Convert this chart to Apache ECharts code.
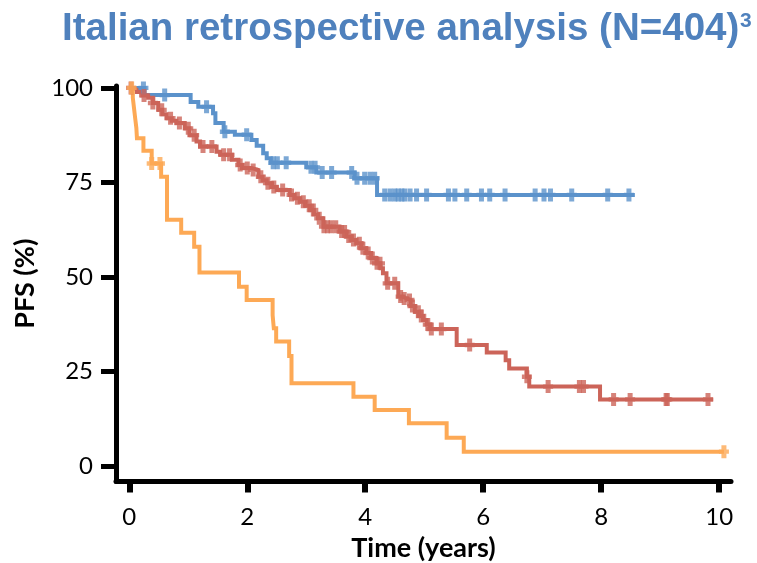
<!DOCTYPE html>
<html>
<head>
<meta charset="utf-8">
<script src="https://cdn.jsdelivr.net/npm/echarts@6/dist/echarts.min.js"></script>
<style>html,body{margin:0;padding:0;background:#fff}#c{width:757px;height:563px}</style>
</head>
<body>
<div id="c"></div>
<script>
// ---- data ----
const titleText = 'Italian retrospective analysis (N=404)';
const titleSup = '3';
const xName = 'Time (years)';
const yName = 'PFS (%)';
const xTicks = [0, 2, 4, 6, 8, 10];
const yTicks = [0, 25, 50, 75, 100];

// Blue group: step times (years) and PFS (%) after each step
const blueTime = [0, 0.26, 1.04, 1.17, 1.42, 1.46, 1.60, 1.79, 2.07, 2.16, 2.27, 2.33, 2.40, 3.00, 3.17, 3.82, 4.20, 8.57];
const blueSurv = [100, 98.1, 96.3, 95.0, 93.3, 90.7, 88.4, 87.6, 86.2, 84.7, 82.7, 81.4, 80.2, 79.0, 77.6, 76.1, 71.7, 71.7];
const blueCensor = [0.24, 0.60, 1.31, 1.62, 1.99, 2.44, 2.51, 2.66, 3.08, 3.15, 3.27, 3.43, 3.77, 3.86, 3.99, 4.08, 4.16,
  4.33, 4.42, 4.50, 4.56, 4.62, 4.67, 4.76, 4.87, 5.04, 5.41, 5.52, 5.72, 5.97, 6.11, 6.37, 6.88, 7.03, 7.14, 7.50, 8.11, 8.47];

// Red group
const redTime = [0, 0.07, 0.13, 0.22, 0.32, 0.40, 0.49, 0.56, 0.63, 0.72, 0.80, 0.94, 1.02, 1.14, 1.20, 1.48, 1.54, 1.74, 1.85, 1.91,
  2.07, 2.19, 2.26, 2.33, 2.42, 2.50, 2.72, 2.80, 2.89, 2.98, 3.06, 3.13, 3.20, 3.29, 3.57, 3.68, 3.77, 3.85, 3.93, 4.02, 4.10,
  4.19, 4.26, 4.30, 4.36, 4.56, 4.63, 4.70, 4.77, 4.84, 4.91, 4.98, 5.04, 5.10, 5.55, 6.06, 6.38, 6.44, 6.74, 6.78, 7.98, 9.90];
const redSurv = [100, 99.5, 98.9, 98.0, 97.4, 96.0, 94.2, 93.0, 92.0, 91.3, 90.7, 89.3, 87.5, 85.8, 84.5, 83.1, 82.3, 81.0, 79.6, 78.8,
  78.3, 76.5, 75.6, 74.8, 73.8, 73.0, 71.7, 70.8, 69.9, 68.8, 67.7, 66.6, 65.5, 63.3, 62.0, 60.7, 59.8, 58.9, 57.6, 56.3, 55.0,
  53.6, 52.3, 51.0, 48.3, 44.8, 44.3, 43.9, 42.3, 40.8, 39.7, 38.6, 37.4, 36.2, 32.0, 30.0, 28.0, 25.8, 23.6, 21.0, 17.6, 17.6];
const redCensor = [0.03, 0.25, 0.40, 0.55, 0.70, 0.85, 1.00, 1.10, 1.25, 1.40, 1.60, 1.70, 1.88, 2.00, 2.10, 2.23, 2.35, 2.45, 2.60,
  2.75, 2.85, 2.95, 3.05, 3.12, 3.22, 3.30, 3.36, 3.42, 3.50, 3.60, 3.65, 3.72, 3.80, 3.90, 3.96, 4.05, 4.12, 4.20, 4.25, 4.38, 4.50,
  4.60, 4.66, 4.75, 4.80, 4.90, 4.95, 5.06, 5.12, 5.29, 5.77, 6.74, 7.10, 7.63, 7.70, 8.21, 8.49, 9.10, 9.12, 9.81];

// Orange group
const orangeTime = [0, 0.06, 0.08, 0.10, 0.12, 0.13, 0.24, 0.38, 0.54, 0.64, 0.88, 1.10, 1.19, 1.86, 1.99, 2.43, 2.45, 2.49, 2.71, 2.75,
  3.80, 4.16, 4.74, 5.38, 5.67, 10.08];
const orangeSurv = [100, 97.4, 94.7, 92.0, 89.4, 86.7, 83.4, 80.0, 76.5, 65.1, 61.7, 58.0, 51.2, 47.4, 43.9, 39.9, 36.4, 32.9, 29.1, 21.9,
  18.3, 14.8, 11.3, 7.5, 3.8, 3.8];
const orangeCensor = [0.04, 0.38, 0.52, 10.08];

// ---- styles ----
const BLUE = '#5B92CB', RED = '#CC6459', ORANGE = '#FDA955';
const PLUS = 'path://M2.5,0H7.5V12H2.5Z M0,4H10V8H0Z';

function pairs(t, s) { return t.map((v, i) => [v, s[i]]); }
function censorPts(c, t, s) {
  return c.map(x => { let v = s[0]; for (let i = 0; i < t.length; i++) { if (t[i] <= x) v = s[i]; } return [x, v]; });
}
function lineSeries(t, s, color) {
  return { type: 'line', step: 'end', data: pairs(t, s), showSymbol: false, silent: true,
    lineStyle: { color: color, width: 4, join: 'miter' }, z: 3 };
}
function censorSeries(c, t, s, color) {
  return { type: 'scatter', data: censorPts(c, t, s), symbol: PLUS, symbolSize: [10, 13],
    itemStyle: { color: color }, silent: true, z: 4 };
}

const chart = echarts.init(document.getElementById('c'), null, { renderer: 'canvas' });
chart.setOption({
  animation: false,
  backgroundColor: '#fff',
  graphic: [
    { type: 'text', x: 62, y: 29, style: { text: titleText, fill: '#4F81BD', font: 'bold 38.5px "Liberation Sans", Arial, sans-serif', verticalAlign: 'middle' } },
    { type: 'text', x: 740, y: 21, style: { text: titleSup, fill: '#4F81BD', font: 'bold 21px "Liberation Sans", Arial, sans-serif', verticalAlign: 'middle' } }
  ],
  grid: { left: 116, top: 86, width: 615, height: 395.5, containLabel: false, outerBoundsMode: 'none' },
  xAxis: {
    type: 'value', min: -0.225, max: 10.2,
    name: xName, nameLocation: 'middle', nameGap: 52,
    nameTextStyle: { fontFamily: 'Lato', fontWeight: 'bold', fontSize: 27, color: '#000' },
    axisLine: { show: true, onZero: false, lineStyle: { color: '#000', width: 5 } },
    axisTick: { show: true, length: 11, customValues: xTicks, lineStyle: { color: '#000', width: 6 } },
    axisLabel: { customValues: xTicks, fontFamily: 'Lato', fontSize: 24, color: '#000', margin: 24 },
    splitLine: { show: false }
  },
  yAxis: {
    type: 'value', min: -4.1, max: 100.5,
    name: yName, nameLocation: 'middle', nameGap: 77,
    nameTextStyle: { fontFamily: 'Lato', fontWeight: 'bold', fontSize: 27, color: '#000' },
    axisLine: { show: true, onZero: false, lineStyle: { color: '#000', width: 5 } },
    axisTick: { show: true, length: 15, customValues: yTicks, lineStyle: { color: '#000', width: 5 } },
    axisLabel: { customValues: yTicks, fontFamily: 'Lato', fontSize: 24, color: '#000', margin: 23 },
    splitLine: { show: false }
  },
  series: [
    lineSeries(blueTime, blueSurv, BLUE),
    lineSeries(redTime, redSurv, RED),
    lineSeries(orangeTime, orangeSurv, ORANGE),
    censorSeries(blueCensor, blueTime, blueSurv, BLUE),
    censorSeries(redCensor, redTime, redSurv, RED),
    censorSeries(orangeCensor, orangeTime, orangeSurv, ORANGE)
  ]
});
</script>
</body>
</html>
